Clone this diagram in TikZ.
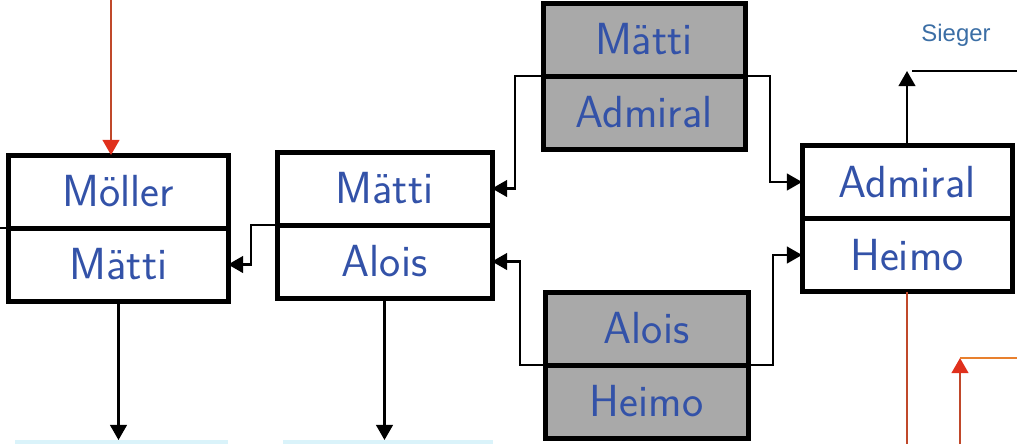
\documentclass[tikz,border=0pt]{standalone}
\usepackage{fontspec}
\newfontfamily\labelfont{Liberation Sans}
\usetikzlibrary{positioning,arrows.meta}
\definecolor{ink}{HTML}{3352A8}
\definecolor{siegerblue}{HTML}{3B6EA5}
\definecolor{scangray}{HTML}{A9A9A9}
\definecolor{arrowred}{HTML}{E0301C}
\definecolor{wirered}{HTML}{C0482A}
\definecolor{wireorange}{HTML}{E8802E}
\definecolor{stripcyan}{HTML}{DAF3FA}
\begin{document}
\begin{tikzpicture}[x=0.25mm,y=-0.25mm,
    cell/.style={draw,line width=1.25mm,minimum height=18.25mm,inner sep=0pt,outer sep=0pt,
      font=\sffamily\fontsize{32}{32}\selectfont,text=ink},
    grey/.style={cell,fill=scangray},
    conn/.style={line width=0.55mm,-{Triangle[length=3.8mm,width=4.2mm]}},
    wire/.style={line width=0.55mm},
    redarrow/.style={line width=0.55mm,draw=wirered,
      -{Triangle[length=3.8mm,width=4.2mm,color=arrowred]}}]
    \useasboundingbox (0,0) rectangle (1017,444);
    % strips of the next row
    \fill[stripcyan] (15,440) rectangle (228,444);
    \fill[stripcyan] (283,440) rectangle (493,444);
    % first round
    \node[grey,minimum width=50.5mm] (c1) at (644,39.5) {Mätti};
    \node[grey,minimum width=50.5mm,below=0pt of c1] (c2) {Admiral};
    \node[grey,minimum width=50.75mm] (e1) at (646.5,328.5) {Alois};
    \node[grey,minimum width=50.75mm,below=0pt of e1] (e2) {Heimo};
    % winners and losers
    \node[cell,minimum width=53.75mm] (b1) at (384.5,188.5) {Mätti};
    \node[cell,minimum width=53.75mm,below=0pt of b1] (b2) {Alois};
    \node[cell,minimum width=52.5mm] (d1) at (907,182) {Admiral};
    \node[cell,minimum width=52.5mm,below=0pt of d1] (d2) {Heimo};
    \node[cell,minimum width=54.75mm] (a1) at (118.5,191.5) {Möller};
    \node[cell,minimum width=54.75mm,below=0pt of a1] (a2) {Mätti};
    \node[font=\labelfont\fontsize{17}{19}\selectfont,text=siegerblue] (sieger) at (956,35) {Sieger};
    % free ends
    \coordinate (intop) at (111,0);
    \coordinate (inleft) at (0,227);
    \coordinate (bottom) at (0,440);
    \coordinate (siegerend) at (1017,71);
    \coordinate (inright) at (1017,358);
    \coordinate (inbottom) at (960,444);
    % connectors
    \draw[conn] (c1.south west) -- ++(-28,0) |- (b1.east);
    \draw[conn] (e1.south west) -- ++(-25,0) |- (b2.east);
    \draw[conn] (c1.south east) -- ++(25,0) |- (d1.west);
    \draw[conn] (e1.south east) -- ++(25,0) |- (d2.west);
    \draw[conn] (b1.south west) -- ++(-26,0) |- (a2.east);
    \draw[conn] (a2.south) -- (a2.south |- bottom);
    \draw[conn] (b2.south) -- (b2.south |- bottom);
    \draw[conn] (d1.north) -- (d1.north |- siegerend);
    \draw[wire] (siegerend) -- ++(-105,0);
    \draw[wire] (a1.south west) -- (a1.south west -| inleft);
    \draw[redarrow] (intop) -- (intop |- a1.north);
    \draw[wire,draw=wirered] (d2.south) -- (d2.south |- inbottom);
    \draw[redarrow] (inbottom) -- (inbottom |- inright);
    \draw[wire,draw=wireorange] (inright) -- (inright -| inbottom);
\end{tikzpicture}
\end{document}
